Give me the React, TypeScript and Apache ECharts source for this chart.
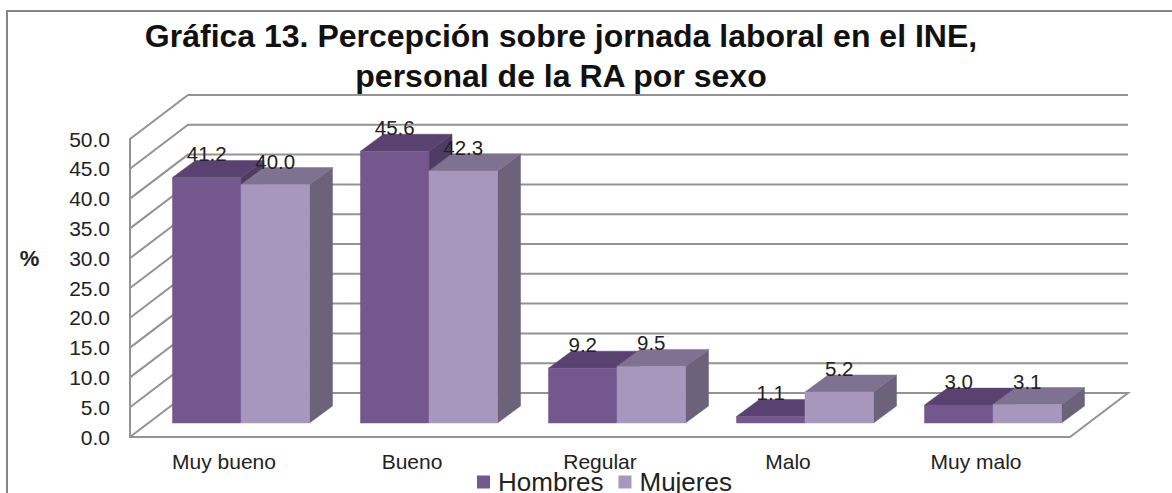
import React, { useEffect, useRef } from "react";
import * as echarts from "echarts";

const categories = ["Muy bueno", "Bueno", "Regular", "Malo", "Muy malo"];
const hombres = [41.2, 45.6, 9.2, 1.1, 3.0];
const mujeres = [40.0, 42.3, 9.5, 5.2, 3.1];
const yTicks = [0, 5, 10, 15, 20, 25, 30, 35, 40, 45, 50];

const GRAY = "#939393";
const TEXT = "#222222";
const FONT = '"Liberation Sans", Arial, sans-serif';
const DEPTH_X = 58;
const DEPTH_Y = 44;
const BAR_SHIFT_X = 17;
const BAR_SHIFT_Y = 14;
const BAR_DX = 23;
const BAR_DY = 17;
const BAR_W_RATIO = 0.3645;

const renderWall = (params: any, api: any) => {
  const sys = params.coordSys;
  const y = api.coord([0, api.value(1)])[1];
  const left = sys.x;
  const right = sys.x + sys.width;
  const pts: number[][] = [
    [left, y],
    [left + DEPTH_X, y - DEPTH_Y],
    [right + DEPTH_X, y - DEPTH_Y],
  ];
  if (api.value(1) === 0) pts.push([right, y]);
  return {
    type: "polyline",
    shape: { points: pts },
    style: { stroke: GRAY, lineWidth: 2, fill: "none" },
    silent: true,
  };
};

const makeBar = (side: number, front: string, top: string, right: string) => (_: any, api: any) => {
  const cat = api.value(0);
  const val = api.value(1);
  const pTop = api.coord([cat, val]);
  const pBase = api.coord([cat, 0]);
  const w = api.size([1, 0])[0] * BAR_W_RATIO;
  const cx = pTop[0] + BAR_SHIFT_X;
  const x0 = side < 0 ? cx - w : cx;
  const x1 = x0 + w;
  const yT = pTop[1] - BAR_SHIFT_Y;
  const yB = pBase[1] - BAR_SHIFT_Y;
  const poly = (points: number[][], fill: string) => ({
    type: "polygon",
    shape: { points },
    style: { fill, stroke: fill, lineWidth: 0.5 },
  });
  return {
    type: "group",
    children: [
      poly([[x1, yB], [x1 + BAR_DX, yB - BAR_DY], [x1 + BAR_DX, yT - BAR_DY], [x1, yT]], right),
      poly([[x0, yT], [x1, yT], [x1 + BAR_DX, yT - BAR_DY], [x0 + BAR_DX, yT - BAR_DY]], top),
      poly([[x0, yT], [x1, yT], [x1, yB], [x0, yB]], front),
      {
        type: "text",
        z2: 100,
        style: {
          text: val.toFixed(1),
          x: (x0 + x1) / 2,
          y: yT - 23.5,
          align: "center",
          verticalAlign: "middle",
          fill: TEXT,
          font: `20.5px ${FONT}`,
        },
      },
    ],
  };
};

export default function App() {
  const ref = useRef<HTMLDivElement>(null);
  useEffect(() => {
    document.body.style.margin = "0";
    const chart = echarts.init(ref.current!, undefined, { renderer: "svg" });
    chart.setOption({
      animation: false,
      backgroundColor: "#ffffff",
      title: {
        text: "Gráfica 13. Percepción sobre jornada laboral en el INE,\npersonal de la RA por sexo",
        left: 556,
        top: 11,
        textAlign: "center",
        textStyle: { fontFamily: FONT, fontSize: 32, fontWeight: "bold", color: "#111111", lineHeight: 40 },
      },
      legend: {
        left: 477,
        top: 469,
        itemWidth: 13,
        itemHeight: 13,
        itemGap: 15,
        icon: "rect",
        padding: 0,
        data: ["Hombres", "Mujeres"],
        textStyle: { fontFamily: FONT, fontSize: 26, lineHeight: 20, color: TEXT, padding: [0, 0, 0, 3] },
      },
      grid: { left: 130, right: 102, top: 139, bottom: 56 },
      xAxis: {
        type: "category",
        data: categories,
        axisLine: { lineStyle: { color: GRAY, width: 2 } },
        axisTick: { show: false },
        axisLabel: { fontFamily: FONT, fontSize: 21, lineHeight: 20, color: TEXT, margin: 14 },
      },
      yAxis: {
        type: "value",
        min: 0,
        max: 50,
        interval: 5,
        splitLine: { show: false },
        axisLine: { show: true, lineStyle: { color: GRAY, width: 2 } },
        axisTick: { show: false },
        axisLabel: {
          fontFamily: FONT,
          fontSize: 21,
          color: TEXT,
          margin: 20,
          padding: [2, 0, 0, 0],
          formatter: (v: number) => v.toFixed(1),
        },
      },
      graphic: [
        {
          type: "rect",
          silent: true,
          z: -10,
          shape: { x: 7, y: 11, width: 1300, height: 700 },
          style: { fill: "none", stroke: "#858585", lineWidth: 2 },
        },
        {
          type: "text",
          x: 29.5,
          y: 258,
          style: {
            text: "%",
            align: "center",
            verticalAlign: "middle",
            fill: TEXT,
            font: `bold 22px ${FONT}`,
          },
        },
      ],
      series: [
        {
          type: "custom",
          name: "walls",
          clip: false,
          z: 1,
          renderItem: renderWall,
          data: yTicks.map((t) => [0, t]),
          encode: { x: 0, y: 1 },
        },
        {
          type: "custom",
          name: "Hombres",
          clip: false,
          z: 2,
          itemStyle: { color: "#73578D" },
          renderItem: makeBar(-1, "#73578D", "#59426F", "#4F3C63"),
          data: hombres.map((v, i) => [i, v]),
          encode: { x: 0, y: 1 },
        },
        {
          type: "custom",
          name: "Mujeres",
          clip: false,
          z: 3,
          itemStyle: { color: "#A897BC" },
          renderItem: makeBar(1, "#A897BC", "#7F7190", "#6C627A"),
          data: mujeres.map((v, i) => [i, v]),
          encode: { x: 0, y: 1 },
        },
      ],
    });
    return () => chart.dispose();
  }, []);
  return <div ref={ref} style={{ position: "absolute", left: 0, top: 0, width: 1172, height: 493 }} />;
}
